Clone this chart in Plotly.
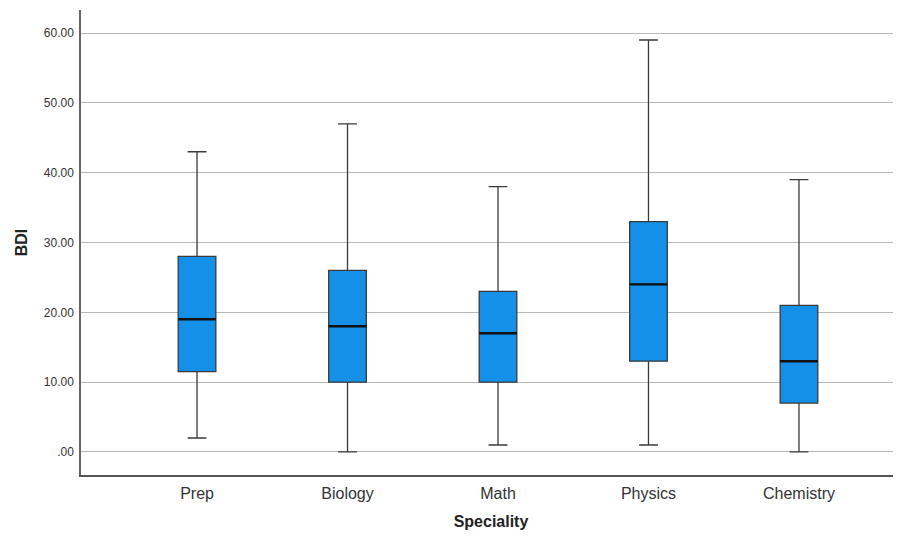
import plotly.graph_objects as go

categories = ["Prep", "Biology", "Math", "Physics", "Chemistry"]
mins = [2, 0, 1, 1, 0]
q1s = [11.5, 10, 10, 13, 7]
medians = [19, 18, 17, 24, 13]
q3s = [28, 26, 23, 33, 21]
maxs = [43, 47, 38, 59, 39]
tick_vals = [0, 10, 20, 30, 40, 50, 60]
tick_text = [".00", "10.00", "20.00", "30.00", "40.00", "50.00", "60.00"]

fig = go.Figure()
fig.add_trace(go.Box(
    x=categories, q1=q1s, median=medians, q3=q3s,
    lowerfence=mins, upperfence=maxs,
    fillcolor="#1590E8", line=dict(color="#3a3a3a", width=1.3),
    width=0.25, whiskerwidth=0.5, boxpoints=False, showlegend=False,
    hoverinfo="skip",
))
fig.add_trace(go.Scatter(
    x=categories, y=medians, mode="markers",
    marker=dict(symbol="line-ew", size=27, line=dict(color="#111111", width=2.4)),
    showlegend=False, hoverinfo="skip",
))

fig.update_layout(
    width=893, height=522,
    margin=dict(l=73, r=0, t=2, b=55, autoexpand=False),
    paper_bgcolor="white", plot_bgcolor="white",
    font=dict(family="Arial, Liberation Sans, sans-serif", color="#333333"),
)
fig.update_xaxes(
    type="category", range=[-0.771, 4.678], automargin=False,
    showline=True, linecolor="#555555", linewidth=1.5,
    showgrid=False, ticks="outside", ticklen=3, tickcolor="rgba(0,0,0,0)",
    tickfont=dict(size=16, color="#333333"),
    title=dict(text="<b>Speciality</b>", font=dict(size=16, color="#222222"), standoff=28),
)
fig.update_yaxes(
    range=[-3.3, 63.3], tickvals=tick_vals, ticktext=tick_text, automargin=False,
    showline=True, linecolor="#666666", linewidth=1.5,
    showgrid=True, gridcolor="#b8b8b8", gridwidth=1.3, zeroline=False,
    ticks="outside", ticklen=3, tickcolor="rgba(0,0,0,0)",
    tickfont=dict(size=12, color="#333333"),
    title=dict(text="<b>BDI</b>", font=dict(size=16, color="#222222"), standoff=12),
)

fig.write_html("out.html")
